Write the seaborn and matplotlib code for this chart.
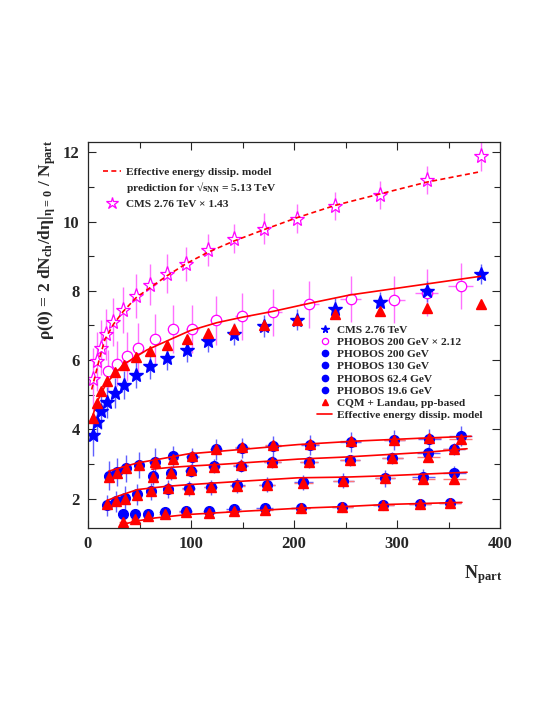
import numpy as np
import pandas as pd
import matplotlib
matplotlib.use('Agg')
import matplotlib.pyplot as plt
from matplotlib.lines import Line2D
from matplotlib.ticker import MultipleLocator
import seaborn as sns

# --- CMS 2.76 TeV (and scaled x1.43) ---
cms_npart = [5.2, 8.4, 12.3, 18.8, 26.2, 34.6, 46.6, 60.2, 77.0, 95.8, 116.8, 141.7, 171.2, 203.2, 239.8, 283.5, 329.4, 381.5]
cms_rho = [3.85, 4.2, 4.52, 4.78, 5.05, 5.29, 5.58, 5.82, 6.07, 6.28, 6.55, 6.76, 6.98, 7.17, 7.48, 7.68, 7.99, 8.49]
cms_err = [0.62, 0.55, 0.5, 0.45, 0.42, 0.4, 0.38, 0.37, 0.35, 0.34, 0.33, 0.32, 0.31, 0.3, 0.3, 0.3, 0.3, 0.3]
cms_scaled_npart = [5.2, 8.4, 12.3, 17.5, 24.6, 34.3, 46.6, 60.0, 76.4, 95.0, 116.8, 141.7, 171.0, 203.0, 240.0, 283.5, 329.0, 382.0]
cms_scaled_rho = [5.46, 5.97, 6.36, 6.74, 7.1, 7.44, 7.85, 8.18, 8.5, 8.78, 9.18, 9.51, 9.79, 10.08, 10.45, 10.77, 11.2, 11.89]
cms_scaled_err = [0.9, 0.85, 0.8, 0.75, 0.7, 0.66, 0.63, 0.6, 0.57, 0.5, 0.45, 0.43, 0.45, 0.42, 0.41, 0.41, 0.41, 0.42]

# CQM + Landau for 2.76 TeV
cqm_lhc_npart = [5.2, 8.4, 12.3, 18.8, 26.2, 34.6, 46.6, 60.2, 77.0, 95.8, 116.8, 141.7, 171.0, 203.0, 239.8, 283.5, 329.4, 382.0]
cqm_lhc_rho = [4.33, 4.77, 5.1, 5.41, 5.66, 5.87, 6.1, 6.26, 6.45, 6.62, 6.77, 6.9, 7.01, 7.17, 7.32, 7.41, 7.51, 7.63]

# PHOBOS 200 GeV x 2.12
phx_npart = [19.7, 27.8, 37.5, 48.8, 65.0, 82.8, 101.3, 124.0, 149.8, 179.9, 214.9, 255.0, 297.0, 328.8, 361.8]
phx_rho = [5.68, 5.9, 6.11, 6.34, 6.6, 6.9, 6.9, 7.15, 7.27, 7.38, 7.61, 7.77, 7.75, 7.95, 8.14]
phx_xerr = [3, 3, 4, 4, 5, 5, 6, 6, 7, 8, 9, 10, 11, 11, 12]
phx_yerr = [0.6, 0.65, 0.7, 0.72, 0.72, 0.7, 0.7, 0.7, 0.68, 0.68, 0.67, 0.67, 0.67, 0.67, 0.67]

# PHOBOS 200 GeV
p200_npart = [20.0, 28.2, 37.2, 49.2, 64.7, 82.5, 101.3, 124.0, 149.5, 179.6, 215.5, 255.0, 297.4, 331.4, 361.8]
p200_rho = [2.66, 2.76, 2.87, 2.97, 3.05, 3.22, 3.2, 3.42, 3.46, 3.51, 3.56, 3.64, 3.69, 3.73, 3.8]
p200_cqm = [2.63, 2.75, 2.89, 2.96, 3.06, 3.14, 3.22, 3.43, 3.5, 3.55, 3.57, 3.65, 3.7, 3.75, 3.73]
p200_yerr = [0.42, 0.4, 0.4, 0.38, 0.4, 0.3, 0.25, 0.3, 0.3, 0.3, 0.29, 0.29, 0.29, 0.29, 0.29]
p200_xerr = [3, 3, 4, 4, 5, 5, 6, 6, 7, 8, 9, 10, 10, 11, 11]

# PHOBOS 130 GeV
p130_npart = [63.1, 80.3, 100.3, 122.3, 148.2, 179.0, 214.6, 254.4, 295.5, 330.4, 355.3]
p130_rho = [2.64, 2.74, 2.81, 2.93, 2.95, 3.05, 3.06, 3.1, 3.18, 3.32, 3.44]
p130_cqm = [2.62, 2.73, 2.83, 2.92, 2.97, 3.05, 3.07, 3.1, 3.16, 3.2, 3.43]
p130_yerr = [0.25, 0.2, 0.2, 0.2, 0.18, 0.18, 0.17, 0.17, 0.17, 0.17, 0.17]
p130_xerr = [5, 5, 6, 6, 7, 8, 9, 10, 10, 11, 11]

# PHOBOS 62.4 GeV
p62_npart = [18.8, 26.9, 35.6, 47.9, 61.5, 77.7, 97.7, 119.1, 145.0, 174.0, 209.0, 247.9, 288.3, 325.6, 355.7]
p62_rho = [1.8, 1.92, 2.02, 2.12, 2.21, 2.28, 2.3, 2.33, 2.38, 2.4, 2.47, 2.52, 2.58, 2.63, 2.74]
p62_cqm = [1.83, 1.93, 1.98, 2.1, 2.22, 2.3, 2.27, 2.33, 2.36, 2.4, 2.45, 2.5, 2.58, 2.56, 2.57]
p62_yerr = [0.29, 0.3, 0.34, 0.3, 0.25, 0.25, 0.22, 0.22, 0.22, 0.22, 0.22, 0.22, 0.24, 0.22, 0.2]
p62_xerr = [3, 3, 4, 4, 5, 5, 6, 6, 7, 8, 9, 10, 10, 11, 11]

# PHOBOS 19.6 GeV
p19_npart = [34.0, 45.3, 58.3, 74.4, 94.8, 117.2, 141.4, 171.5, 206.5, 246.9, 286.7, 322.3, 351.5]
p19_rho = [1.54, 1.54, 1.54, 1.6, 1.65, 1.65, 1.7, 1.73, 1.73, 1.76, 1.81, 1.83, 1.88]
p19_cqm = [1.32, 1.41, 1.51, 1.56, 1.6, 1.59, 1.65, 1.68, 1.73, 1.76, 1.82, 1.83, 1.87]
p19_yerr = [0.1, 0.1, 0.12, 0.17, 0.12, 0.12, 0.12, 0.12, 0.12, 0.12, 0.12, 0.12, 0.12]
p19_xerr = [4, 4, 5, 5, 6, 6, 7, 8, 9, 10, 10, 11, 11]

# effective energy dissipation model curves
model_lhc_x = [3.5, 8.4, 18.0, 34.3, 57.0, 76.4, 99.0, 125.0, 150.0, 180.0, 215.0, 254.0, 329.0, 381.0]
model_lhc_y = [4.28, 4.77, 5.34, 5.87, 6.29, 6.55, 6.85, 7.08, 7.24, 7.41, 7.64, 7.88, 8.2, 8.42]
model_513_x = [3.6, 6.8, 11.7, 16.5, 24.6, 34.3, 46.6, 60.2, 76.4, 95.0, 116.8, 141.7, 171.0, 202.6, 240.0, 283.5, 328.8, 380.6]
model_513_y = [5.15, 5.53, 6.11, 6.6, 7.03, 7.41, 7.8, 8.09, 8.43, 8.78, 9.12, 9.44, 9.77, 10.11, 10.47, 10.8, 11.14, 11.44]
model_200_x = [20, 30, 48, 75, 97, 149, 204, 260, 320, 372]
model_200_y = [2.79, 2.88, 3.03, 3.17, 3.29, 3.42, 3.56, 3.66, 3.74, 3.8]
model_130_x = [62, 80, 100, 130, 160, 204, 250, 290, 330, 368]
model_130_y = [2.85, 2.9, 2.94, 2.99, 3.05, 3.14, 3.2, 3.27, 3.34, 3.44]
model_62_x = [19, 30, 48, 75, 97, 149, 204, 250, 290, 368]
model_62_y = [1.95, 2.08, 2.26, 2.35, 2.4, 2.5, 2.6, 2.62, 2.66, 2.76]
model_19_x = [34, 45, 65, 97, 149, 204, 250, 290, 363]
model_19_y = [1.25, 1.34, 1.44, 1.54, 1.63, 1.72, 1.77, 1.83, 1.89]

BLUE = '#0000ff'
RED = '#ff0000'
MAG = '#ff00ff'

sns.set_style('ticks')
plt.rcParams['font.family'] = ['Liberation Serif', 'DejaVu Serif']
plt.rcParams['font.weight'] = 'bold'
plt.rcParams['mathtext.default'] = 'regular'

fig = plt.figure(figsize=(5.45, 7.05), dpi=100)
ax = fig.add_axes([88 / 545, 177 / 705, 412 / 545, 386 / 705])

# error bars
ax.errorbar(cms_scaled_npart, cms_scaled_rho, yerr=cms_scaled_err, fmt='none', ecolor='#ff70ff', elinewidth=1)
ax.errorbar(phx_npart, phx_rho, xerr=phx_xerr, yerr=phx_yerr, fmt='none', ecolor='#ff70ff', elinewidth=1)
ax.errorbar(cms_npart, cms_rho, yerr=cms_err, fmt='none', ecolor='#6060ff', elinewidth=1)
for xs, ys, ye, xe in [(p200_npart, p200_rho, p200_yerr, p200_xerr),
                       (p130_npart, p130_rho, p130_yerr, p130_xerr),
                       (p62_npart, p62_rho, p62_yerr, p62_xerr),
                       (p19_npart, p19_rho, p19_yerr, p19_xerr)]:
    ax.errorbar(xs, ys, xerr=xe, yerr=ye, fmt='none', ecolor='#6060ff', elinewidth=1)
for xs, ys, xe in [(p200_npart, p200_cqm, p200_xerr), (p130_npart, p130_cqm, p130_xerr),
                   (p62_npart, p62_cqm, p62_xerr), (p19_npart, p19_cqm, p19_xerr)]:
    ax.errorbar(xs, ys, xerr=xe, fmt='none', ecolor='#ff7777', elinewidth=1)

# markers
ax.plot(cms_scaled_npart, cms_scaled_rho, ls='none', marker='*', ms=11, mfc='white', mec=MAG, mew=0.9)
ax.plot(phx_npart, phx_rho, ls='none', marker='o', ms=7.5, mfc='white', mec=MAG, mew=0.9)
ax.plot(cms_npart, cms_rho, ls='none', marker='*', ms=10, color=BLUE)
for xs, ys in [(p200_npart, p200_rho), (p130_npart, p130_rho), (p62_npart, p62_rho), (p19_npart, p19_rho)]:
    ax.plot(xs, ys, ls='none', marker='o', ms=7, color=BLUE)

# model curves
sns.lineplot(x=model_513_x, y=model_513_y, ax=ax, color=RED, lw=1.2, linestyle=(0, (3, 2)), sort=False, estimator=None)
for mx, my in [(model_lhc_x, model_lhc_y), (model_200_x, model_200_y), (model_130_x, model_130_y),
               (model_62_x, model_62_y), (model_19_x, model_19_y)]:
    sns.lineplot(x=mx, y=my, ax=ax, color=RED, lw=1.2, sort=False, estimator=None)

for xs, ys in [(cqm_lhc_npart, cqm_lhc_rho), (p200_npart, p200_cqm), (p130_npart, p130_cqm),
               (p62_npart, p62_cqm), (p19_npart, p19_cqm)]:
    ax.plot(xs, ys, ls='none', marker='^', ms=7, color=RED)

ax.set_xlim(0, 400)
ax.set_ylim(1.15, 12.3)
ax.xaxis.set_major_locator(MultipleLocator(100))
ax.xaxis.set_minor_locator(MultipleLocator(50))
ax.yaxis.set_major_locator(MultipleLocator(2))
ax.yaxis.set_minor_locator(MultipleLocator(1))
ax.tick_params(which='both', direction='in', top=True, right=True, labelsize=12, width=0.8)
ax.tick_params(which='major', length=6, pad=6)
ax.tick_params(which='minor', length=4)
for sp in ax.spines.values():
    sp.set_linewidth(0.9)

ax.set_ylabel(r'ρ(0) = 2 dN$_{ch}$/dη|$_{η=0}$ / N$_{part}$', fontsize=12.5, fontweight='bold')
ax.yaxis.set_label_coords(-0.072, 0.746)
ax.set_xlabel(r'N$_{part}$', fontsize=13, fontweight='bold', ha='right')
ax.xaxis.set_label_coords(1.005, -0.09)

# legends
top_handles = [Line2D([], [], color=RED, lw=1.2, linestyle=(0, (3, 2))),
               Line2D([], [], ls='none'),
               Line2D([], [], ls='none', marker='*', ms=9, mfc='white', mec=MAG, mew=0.9)]
top_labels = ['Effective energy dissip. model',
              r'prediction for √s$_{NN}$ = 5.13 TeV',
              'CMS 2.76 TeV × 1.43']
leg1 = ax.legend(top_handles, top_labels, loc='upper left', bbox_to_anchor=(0.036, 0.935),
                 frameon=False, fontsize=8.2, handlelength=1.6, handletextpad=0.45,
                 labelspacing=0.3, borderpad=0, borderaxespad=0)
ax.add_artist(leg1)

right_handles = [Line2D([], [], ls='none', marker='*', ms=5.5, color=BLUE),
                 Line2D([], [], ls='none', marker='o', ms=4.5, mfc='white', mec=MAG, mew=0.9),
                 Line2D([], [], ls='none', marker='o', ms=4.5, color=BLUE),
                 Line2D([], [], ls='none', marker='o', ms=4.5, color=BLUE),
                 Line2D([], [], ls='none', marker='o', ms=4.5, color=BLUE),
                 Line2D([], [], ls='none', marker='o', ms=4.5, color=BLUE),
                 Line2D([], [], ls='none', marker='^', ms=4.5, color=RED),
                 Line2D([], [], color=RED, lw=1.2)]
right_labels = ['CMS 2.76 TeV', 'PHOBOS 200 GeV × 2.12', 'PHOBOS 200 GeV', 'PHOBOS 130 GeV',
                'PHOBOS 62.4 GeV', 'PHOBOS 19.6 GeV', 'CQM + Landau, pp-based',
                'Effective energy dissip. model']
ax.legend(right_handles, right_labels, loc='upper left', bbox_to_anchor=(0.556, 0.527),
          frameon=False, fontsize=8.2, handlelength=1.35, handletextpad=0.4,
          labelspacing=0.2, borderpad=0, borderaxespad=0)

fig.savefig('out.png', dpi=100)
